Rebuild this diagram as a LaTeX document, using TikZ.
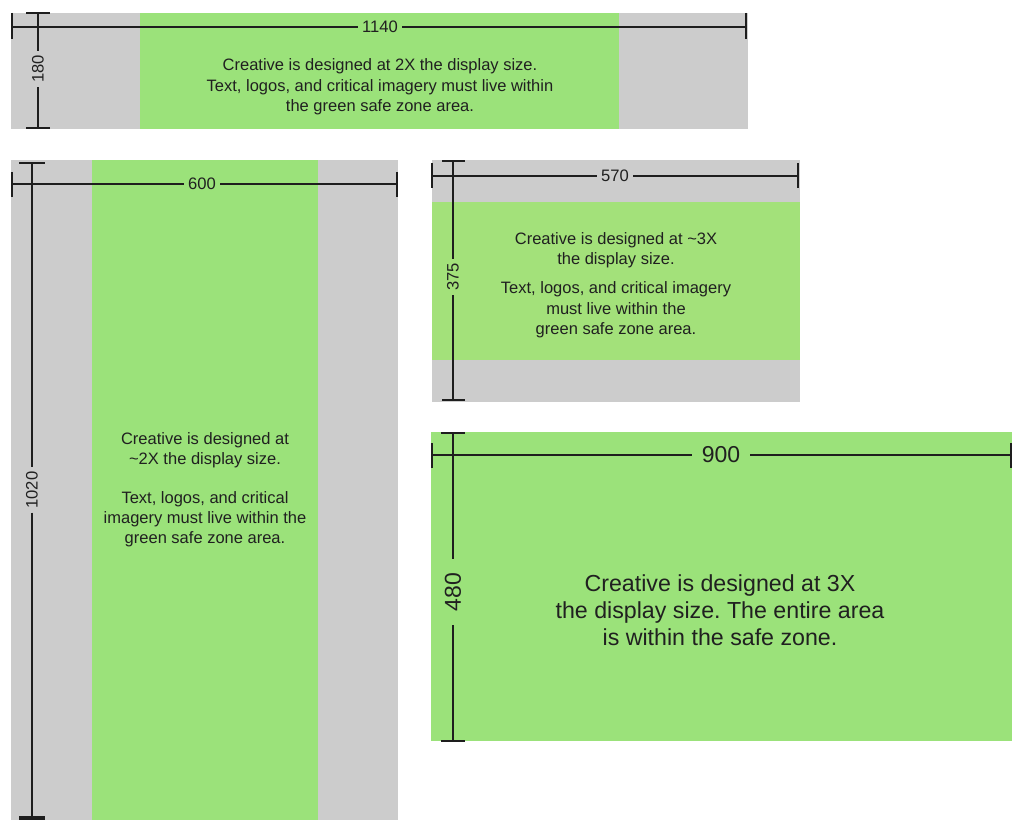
\documentclass[tikz,border=0pt]{standalone}
\usepackage{fontspec}
\setmainfont{Liberation Sans}
\frenchspacing
\definecolor{zgray}{RGB}{204,204,204}
\definecolor{zgreen}{RGB}{155,226,122}
\definecolor{zgreenb}{RGB}{163,225,122}
\definecolor{dimc}{RGB}{30,30,30}
\definecolor{txtc}{RGB}{32,32,32}
\begin{document}
\begin{tikzpicture}[x=1pt,y=-1pt,
  zone/.style={fill=#1,draw=none,inner sep=0pt,outer sep=0pt,anchor=north west},
  dimline/.style={draw=dimc,line width=1.8pt},
  tickline/.style={draw=dimc,line width=2.2pt},
  dimlbl/.style={font=\fontsize{16.6}{19}\selectfont,text=txtc,inner sep=4pt},
  biglbl/.style={font=\fontsize{23}{27}\selectfont,text=txtc,inner sep=10pt},
  body/.style={align=center,font=\fontsize{16.5}{20.3}\selectfont,text=txtc,inner sep=0pt},
  bigbody/.style={align=center,font=\fontsize{23.2}{27}\selectfont,text=txtc,inner sep=0pt}]
\useasboundingbox[fill=white] (0,0) rectangle (1024,834);

% ---------------- panel 1 (1140 x 180)
\node[zone=zgray,minimum width=737pt,minimum height=116pt] (p1) at (11,13) {};
\node[zone=zgreen,minimum width=479pt,minimum height=116pt] (g1) at (140,13) {};
\coordinate (h1a) at (12,27);
\coordinate (h1b) at (746,27);
\node[dimlbl] (l1140) at (380,27) {1140};
\draw[dimline] (h1a) -- (l1140.west);
\draw[dimline] (l1140.east) -- (h1b);
\draw[tickline] (h1a) ++(0,-14) -- ++(0,26);
\draw[tickline] (h1b) ++(0,-14) -- ++(0,26);
\coordinate (v1a) at (38,13);
\coordinate (v1b) at (38,128);
\node[dimlbl,rotate=90] (l180) at (38,69) {180};
\draw[dimline] (v1a) -- (l180.east);
\draw[dimline] (l180.west) -- (v1b);
\draw[tickline] (v1a) ++(-12,0) -- ++(24,0);
\draw[tickline] (v1b) ++(-12,0) -- ++(24,0);
\node[body] (t1) at (380,87) {Creative is designed at 2X the display size.\\Text, logos, and critical imagery must live within\\the green safe zone area.};

% ---------------- panel 2 (600 x 1020)
\node[zone=zgray,minimum width=387pt,minimum height=660pt] (p2) at (11,160) {};
\node[zone=zgreen,minimum width=226pt,minimum height=660pt] (g2) at (92,160) {};
\coordinate (h2a) at (12,184);
\coordinate (h2b) at (397,184);
\node[dimlbl] (l600) at (202,184) {600};
\draw[dimline] (h2a) -- (l600.west);
\draw[dimline] (l600.east) -- (h2b);
\draw[tickline] (h2a) ++(0,-12) -- ++(0,25);
\draw[tickline] (h2b) ++(0,-12) -- ++(0,25);
\coordinate (v2a) at (32,163);
\coordinate (v2b) at (32,818);
\node[dimlbl,rotate=90] (l1020) at (32,490) {1020};
\draw[dimline] (v2a) -- (l1020.east);
\draw[dimline] (l1020.west) -- (v2b);
\draw[tickline] (v2a) ++(-13,0) -- ++(26,0);
\draw[draw=dimc,line width=3.8pt] (v2b) ++(-13,0) -- ++(26,0);
\node[body] (t2) at (205,490) {Creative is designed at\\\textasciitilde2X the display size.\\[18pt]Text, logos, and critical\\imagery must live within the\\green safe zone area.};

% ---------------- panel 3 (570 x 375)
\node[zone=zgray,minimum width=368pt,minimum height=242pt] (p3) at (432,160) {};
\node[zone=zgreenb,minimum width=368pt,minimum height=158pt] (g3) at (432,202) {};
\coordinate (h3a) at (432,176);
\coordinate (h3b) at (798,176);
\node[dimlbl] (l570) at (615,176) {570};
\draw[dimline] (h3a) -- (l570.west);
\draw[dimline] (l570.east) -- (h3b);
\draw[tickline] (h3a) ++(0,-13) -- ++(0,25);
\draw[tickline] (h3b) ++(0,-13) -- ++(0,25);
\coordinate (v3a) at (453,161);
\coordinate (v3b) at (453,400);
\node[dimlbl,rotate=90] (l375) at (453,277) {375};
\draw[dimline] (v3a) -- (l375.east);
\draw[dimline] (l375.west) -- (v3b);
\draw[tickline] (v3a) ++(-11,0) -- ++(23,0);
\draw[tickline] (v3b) ++(-11,0) -- ++(23,0);
\node[body] (t3) at (616,285) {Creative is designed at \textasciitilde3X\\the display size.\\[9pt]Text, logos, and critical imagery\\must live within the\\green safe zone area.};

% ---------------- panel 4 (900 x 480)
\node[zone=zgreen,minimum width=581pt,minimum height=309pt] (g4) at (431,432) {};
\coordinate (h4a) at (432,455);
\coordinate (h4b) at (1011,455);
\node[biglbl] (l900) at (721,455) {900};
\draw[dimline] (h4a) -- (l900.west);
\draw[dimline] (l900.east) -- (h4b);
\draw[tickline] (h4a) ++(0,-12) -- ++(0,25);
\draw[tickline] (h4b) ++(0,-12) -- ++(0,25);
\coordinate (v4a) at (453,433);
\coordinate (v4b) at (453,741);
\node[biglbl,inner sep=14pt,rotate=90] (l480) at (453,592) {480};
\draw[dimline] (v4a) -- (l480.east);
\draw[dimline] (l480.west) -- (v4b);
\draw[tickline] (v4a) ++(-12,0) -- ++(24,0);
\draw[tickline] (v4b) ++(-12,0) -- ++(24,0);
\node[bigbody] (t4) at (720,610) {Creative is designed at 3X\\the display size. The entire area\\is within the safe zone.};
\end{tikzpicture}
\end{document}
